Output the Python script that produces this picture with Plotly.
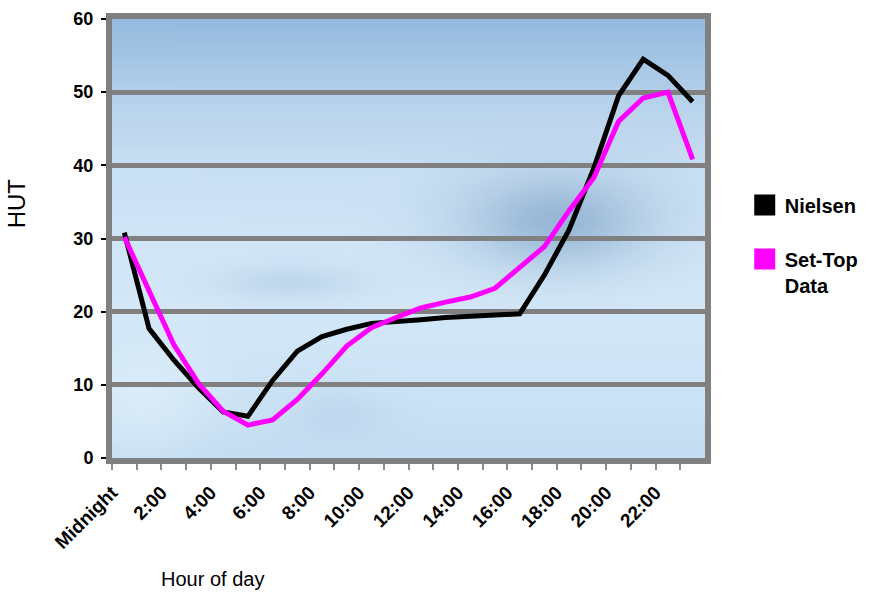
import math, zlib, struct, base64
import plotly.graph_objects as go

# ---------------- data ----------------
hours = list(range(24))
label_hours = [0, 2, 4, 6, 8, 10, 12, 14, 16, 18, 20, 22]
tick_labels = ["Midnight", "2:00", "4:00", "6:00", "8:00", "10:00", "12:00",
               "14:00", "16:00", "18:00", "20:00", "22:00"]
nielsen = [30.8, 17.7, 13.4, 9.6, 6.3, 5.7, 10.6, 14.6, 16.6, 17.6, 18.4, 18.6,
           18.9, 19.2, 19.4, 19.5, 19.7, 25.0, 31.2, 39.6, 49.5, 54.5, 52.3, 48.7]
settop = [30.2, 22.7, 15.5, 10.2, 6.4, 4.5, 5.2, 8.0, 11.5, 15.3, 17.8, 19.2,
          20.5, 21.3, 22.0, 23.2, 26.0, 28.9, 33.8, 38.3, 46.0, 49.2, 50.0, 40.8]
y_ticks = [0, 10, 20, 30, 40, 50, 60]

FONT = "Arial, Liberation Sans, sans-serif"


# ---------------- background texture (gradient png) ----------------
def png_uri(w, h, fn):
    raw = bytearray()
    for j in range(h):
        raw.append(0)
        for i in range(w):
            r, g, b = fn((i + 0.5) / w, (j + 0.5) / h)
            raw += bytes((max(0, min(255, int(r))), max(0, min(255, int(g))), max(0, min(255, int(b)))))

    def chunk(t, d):
        c = struct.pack(">I", len(d)) + t + d
        return c + struct.pack(">I", zlib.crc32(t + d) & 0xFFFFFFFF)

    png = (b"\x89PNG\r\n\x1a\n"
           + chunk(b"IHDR", struct.pack(">IIBBBBB", w, h, 8, 2, 0, 0, 0))
           + chunk(b"IDAT", zlib.compress(bytes(raw), 9))
           + chunk(b"IEND", b""))
    return "data:image/png;base64," + base64.b64encode(png).decode()


stops = [(0.0, (150, 187, 223)), (0.1, (166, 199, 230)), (0.2, (186, 212, 237)),
         (0.35, (202, 224, 243)), (0.5, (208, 229, 246)), (0.65, (211, 231, 247)),
         (0.85, (205, 228, 246)), (1.0, (196, 221, 242))]
blobs = [  # u, v, su, sv, color, strength
    (0.75, 0.46, 0.11, 0.075, (135, 170, 205), 0.75),
    (0.30, 0.60, 0.08, 0.025, (170, 198, 225), 0.45),
    (0.05, 0.86, 0.08, 0.10, (228, 242, 251), 0.6),
    (0.38, 0.90, 0.06, 0.04, (180, 206, 232), 0.4),
]


def bg(u, v):
    for k in range(len(stops) - 1):
        v0, c0 = stops[k]
        v1, c1 = stops[k + 1]
        if v0 <= v <= v1:
            t = (v - v0) / (v1 - v0)
            col = [c0[m] + (c1[m] - c0[m]) * t for m in range(3)]
            break
    else:
        col = list(stops[-1][1])
    for (bu, bv, su, sv, bc, s) in blobs:
        w = s * math.exp(-(((u - bu) / su) ** 2 + ((v - bv) / sv) ** 2) / 2)
        col = [col[m] * (1 - w) + bc[m] * w for m in range(3)]
    return col


bg_uri = png_uri(120, 90, bg)

# ---------------- figure ----------------
fig = go.Figure()
fig.add_trace(go.Scatter(x=hours, y=nielsen, mode="lines", name="Nielsen",
                         line=dict(color="#000000", width=5), showlegend=False))
fig.add_trace(go.Scatter(x=hours, y=settop, mode="lines", name="Set-Top Data",
                         line=dict(color="#ff00ff", width=5), showlegend=False))
# legend entries (square swatches)
fig.add_trace(go.Scatter(x=[None], y=[None], mode="markers", name="Nielsen",
                         legendgroup="a",
                         marker=dict(symbol="square", size=16, color="#000000",
                                     line=dict(color="#000000", width=5))))
fig.add_trace(go.Scatter(x=[None], y=[None], mode="markers", name="Set-Top<br>Data",
                         legendgroup="b",
                         marker=dict(symbol="square", size=16, color="#ff00ff",
                                     line=dict(color="#ff00ff", width=5))))

fig.add_layout_image(dict(source=bg_uri, xref="x", yref="y", x=-0.5, y=60,
                          sizex=24, sizey=60, sizing="stretch", layer="below",
                          xanchor="left", yanchor="top"))

fig.update_layout(
    width=875, height=597,
    margin=dict(l=112, r=170, t=19, b=139, autoexpand=False),
    paper_bgcolor="white",
    plot_bgcolor="#cfe3f4",
    font=dict(family=FONT, color="black"),
    legend=dict(x=1.067, y=0.621, xanchor="left", yanchor="top",
                font=dict(family=FONT, size=20, weight="bold"),
                valign="top", tracegroupgap=25, bgcolor="rgba(0,0,0,0)"),
    annotations=[
        dict(text="HUT", xref="paper", yref="paper", x=-0.162, y=0.58,
             showarrow=False, textangle=-90, font=dict(size=24, family=FONT),
             xanchor="center", yanchor="middle"),
        dict(text="Hour of day", xref="paper", yref="paper", x=0.169, y=-0.275,
             showarrow=False, font=dict(size=20, family=FONT),
             xanchor="center", yanchor="middle"),
    ],
)
fig.update_xaxes(
    range=[-0.5, 23.5], tickmode="array",
    tickvals=[h - 0.5 for h in label_hours], ticktext=tick_labels,
    tickangle=-45, ticks="outside", ticklen=6, tickwidth=2, tickcolor="#8a8a8a",
    showgrid=False, zeroline=False,
    showline=True, mirror=True, linecolor="#808080", linewidth=6,
    tickfont=dict(size=19, family=FONT, weight="bold"),
    ticklabelstandoff=4,
    minor=dict(tickvals=[h - 0.5 for h in hours], ticks="outside", ticklen=6,
               tickwidth=2, tickcolor="#8a8a8a", showgrid=False),
)
fig.update_yaxes(
    range=[0, 60], tickmode="array", tickvals=y_ticks, ticks="outside", ticklen=5,
    tickwidth=2, tickcolor="#000000",
    showgrid=True, gridcolor="#808080", gridwidth=5, zeroline=False,
    showline=True, mirror=True, linecolor="#808080", linewidth=6,
    tickfont=dict(size=18, family=FONT, weight="bold"),
    ticklabelstandoff=4,
)

fig.write_html("out.html")
